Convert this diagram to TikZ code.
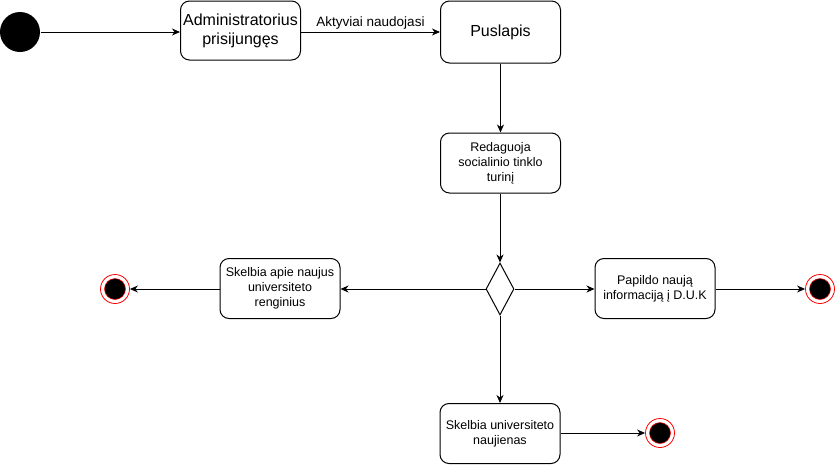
\documentclass[tikz,border=0pt]{standalone}
\usepackage{fontspec}
\setmainfont{Liberation Sans}
\usetikzlibrary{positioning,shapes.geometric,arrows.meta}

\begin{document}
\begin{tikzpicture}[x=1pt,y=-1pt,line width=1pt,
	state/.style={draw,rounded corners=9pt,minimum width=120pt,minimum height=60pt,align=center,inner sep=2pt,font=\fontsize{12.5}{15}\selectfont},
	bigstate/.style={state,font=\fontsize{16}{19}\selectfont},
	choice/.style={draw,diamond,minimum width=28pt,minimum height=52pt,inner sep=0pt},
	startstate/.style={circle,fill=black,minimum size=40pt,inner sep=0pt},
	endstate/.style={circle,draw=red,fill=white,line width=0.8pt,minimum size=29pt,inner sep=0pt,
		path picture={\filldraw[fill=black,draw=red,line width=0.5pt] (path picture bounding box.center) circle (10.5pt);}},
	flow/.style={-{Stealth[length=8pt,width=7pt,inset=2.5pt]}}]
	\useasboundingbox (0,0) rectangle (836,464);
	\node[startstate] (start) at (20,32) {};
	\node[bigstate,minimum height=59pt] (admin) at (240.5,30.5) {Administratorius\\prisijungęs};
	\node[bigstate,minimum height=62pt] (pusl) at (500.5,32) {Puslapis};
	\node[state] (redag) at (500.5,163) {Redaguoja\\socialinio tinklo\\turinį};
	\node[choice] (choice) at (500,289) {};
	\node[state] (renginiai) at (280,288.5) {Skelbia apie naujus\\universiteto\\renginius};
	\node[state] (duk) at (655,288.5) {Papildo naują\\informaciją į D.U.K};
	\node[state] (naujienos) at (500,433.5) {Skelbia universiteto\\naujienas};
	\node[endstate] (endL) at (115,289) {};
	\node[endstate] (endR) at (820,289) {};
	\node[endstate] (endB) at (660,433) {};
	\draw[flow] (start) -- (start -| admin.west);
	\draw[flow] (pusl.west -| admin.east) -- node[above=-1pt,font=\fontsize{13.5}{16}\selectfont] {Aktyviai naudojasi} (pusl.west);
	\draw[flow] (pusl) -- (redag);
	\draw[flow] (redag.south -| choice) -- (choice.north);
	\draw[flow] (choice.west) -- (renginiai.east |- choice);
	\draw[flow] (choice.east) -- (duk.west |- choice);
	\draw[flow] (choice.south) -- (naujienos.north);
	\draw[flow] (renginiai.west |- endL) -- (endL);
	\draw[flow] (duk.east |- endR) -- (endR);
	\draw[flow] (naujienos.east |- endB) -- (endB);
\end{tikzpicture}
\end{document}
